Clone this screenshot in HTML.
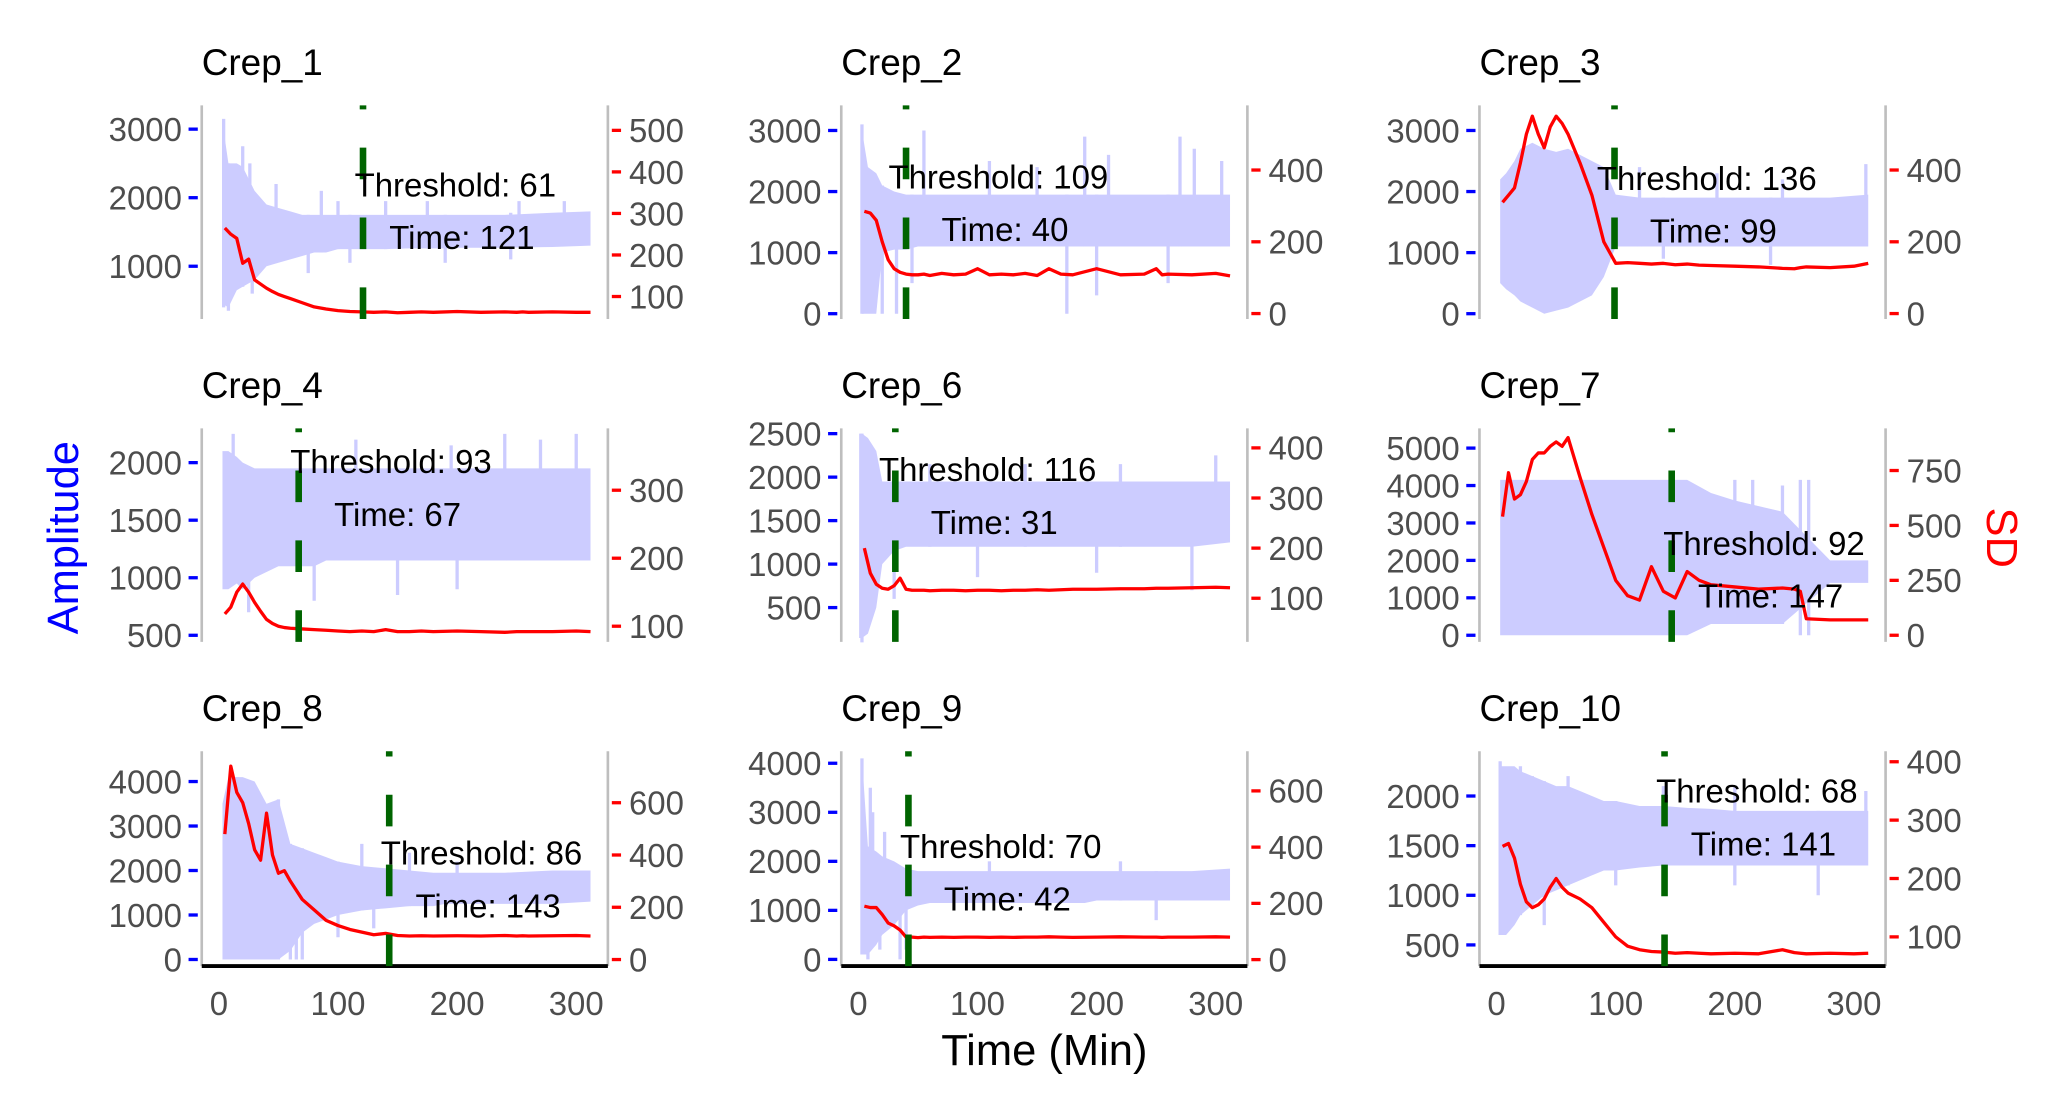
<!DOCTYPE html>
<html><head><meta charset="utf-8"><style>
html,body{margin:0;padding:0;background:#fff;}
svg{display:block;font-family:"Liberation Sans",Arial,sans-serif;}
</style></head>
<body>
<svg id="chart" xmlns="http://www.w3.org/2000/svg" width="2057" height="1115" viewBox="0 0 1560 846" preserveAspectRatio="none">
<rect x="0" y="0" width="1560" height="846" fill="#fff"/>
<text x="0" y="0" transform="translate(59,408) rotate(-90)" text-anchor="middle" font-size="33" fill="#0000ff">Amplitude</text>
<text x="0" y="0" transform="translate(1507,408) rotate(90)" text-anchor="middle" font-size="33" fill="#ff0000">SD</text>
<text x="792" y="808" text-anchor="middle" font-size="33" fill="#000">Time (Min)</text>
</svg>
<script>
// ---- data ----
const titles = ["Crep_1","Crep_2","Crep_3","Crep_4","Crep_6","Crep_7","Crep_8","Crep_9","Crep_10"];
const thresholds = [61,109,136,93,116,92,86,70,68];
const thrTimes = [121,40,99,67,31,147,143,42,141];
const xTicks = [0,100,200,300];
const ampTicks = [[1000,2000,3000],[0,1000,2000,3000],[0,1000,2000,3000],[500,1000,1500,2000],[500,1000,1500,2000,2500],[0,1000,2000,3000,4000,5000],[0,1000,2000,3000,4000],[0,1000,2000,3000,4000],[500,1000,1500,2000]];
const sdTicks = [[100,200,300,400,500],[0,200,400],[0,200,400],[100,200,300],[100,200,300,400],[0,250,500,750],[0,200,400,600],[0,200,400,600],[100,200,300,400]];
const ampDomain = [[231,3346],[-86,3410],[-86,3410],[443,2298],[106,2561],[-176,5528],[-148,4681],[-136,4245],[287,2451]];
const sdDomain = [[46,560],[-15,580],[-15,580],[77,391],[13,439],[-30,942],[-25,797],[-23,741],[50,418]];

const TS = [5,10,15,20,25,30,35,40,45,50,55,60,70,80,90,100,110,120,130,140,150,160,170,180,200,220,240,250,255,260,280,300,312];
const sd1 = [265,250,240,180,190,140,130,120,112,105,100,95,85,75,70,66,64,63,62,63,61,62,63,62,64,62,63,62,63,62,63,62,62];
const sd2 = [285,280,260,200,150,125,115,110,108,108,110,106,112,108,110,125,108,110,108,112,106,125,110,108,125,108,110,125,108,110,108,112,105];
const sd3 = [310,330,350,420,500,550,500,462,520,550,530,500,420,330,200,140,142,140,138,140,136,138,135,134,132,130,126,125,128,130,128,132,140];
const sd4 = [118,128,150,162,150,135,122,110,104,100,98,97,96,95,94,93,92,93,92,95,92,92,93,92,93,92,91,92,92,92,92,93,92];
const sd6 = [200,150,128,120,118,125,140,118,116,116,116,115,116,116,115,116,116,115,116,116,117,116,117,118,118,119,119,120,120,120,121,122,121];
const sd7 = [540,740,620,640,700,800,830,830,860,880,860,900,720,550,400,250,180,160,312,200,170,290,250,230,220,210,215,210,200,75,70,70,70];
const sd8 = [480,740,640,600,520,420,380,560,400,330,340,300,230,190,150,130,115,105,95,100,92,90,91,90,91,90,92,90,91,90,91,92,90];
const sd9 = [190,185,185,160,130,120,105,80,80,78,80,79,80,79,80,80,79,80,79,80,80,81,80,79,80,81,80,80,79,80,80,81,80];
const sd10 = [255,260,235,190,160,150,155,165,185,200,185,175,165,150,125,100,84,78,75,74,72,73,72,71,72,71,78,73,72,71,72,71,72];
const sdSeries = [sd1,sd2,sd3,sd4,sd6,sd7,sd8,sd9,sd10];

const TB = [3,8,15,20,30,40,50,60,70,80,90,100,120,140,160,180,190,200,240,280,312];
const hi1 = [3100,2500,2500,2450,2100,1900,1850,1800,1750,1750,1750,1750,1750,1750,1750,1750,1750,1750,1750,1780,1800];
const lo1 = [450,400,650,700,800,1000,1050,1100,1150,1200,1200,1250,1250,1250,1260,1260,1260,1270,1270,1280,1300];
const hi2 = [3000,2400,2300,2100,2000,1950,1950,1950,1950,1950,1950,1950,1950,1950,1950,1950,1950,1950,1950,1950,1950];
const lo2 = [0,0,0,1000,1050,1050,1100,1100,1100,1100,1100,1100,1100,1100,1100,1100,1100,1100,1100,1100,1100];
const hi3 = [2200,2300,2500,2700,2800,2700,2650,2700,2600,2500,2400,1950,1900,1900,1900,1900,1900,1900,1900,1900,1950];
const lo3 = [500,400,300,200,100,0,50,100,200,300,600,1100,1100,1100,1100,1100,1100,1100,1100,1100,1100];
const hi4 = [2100,2100,2050,2000,1950,1950,1950,1950,1950,1950,1950,1950,1950,1950,1950,1950,1950,1950,1950,1950,1950];
const lo4 = [900,900,950,900,1000,1050,1100,1100,1100,1100,1150,1150,1150,1150,1150,1150,1150,1150,1150,1150,1150];
const hi6 = [2500,2450,2300,1950,1950,1950,1950,1950,1950,1950,1950,1950,1950,1950,1950,1950,1950,1950,1950,1950,1950];
const lo6 = [150,200,500,1000,1150,1200,1200,1200,1200,1200,1200,1200,1200,1200,1200,1200,1200,1200,1200,1200,1250];
const hi7 = [4150,4150,4150,4150,4150,4150,4150,4150,4150,4150,4150,4150,4150,4150,4150,3800,3700,3600,3300,2000,2000];
const lo7 = [0,0,0,0,0,0,0,0,0,0,0,0,0,0,0,300,300,300,300,1400,1400];
const hi8 = [3500,4100,4100,4100,4000,3500,3600,2600,2500,2400,2300,2200,2100,2050,2000,1950,1950,1950,1950,2000,2000];
const lo8 = [0,0,0,0,0,0,0,200,600,800,900,1000,1100,1150,1200,1200,1250,1250,1250,1250,1300];
const hi9 = [4100,2300,2200,2100,2000,1850,1800,1800,1800,1800,1800,1800,1800,1800,1800,1800,1800,1800,1800,1800,1850];
const lo9 = [100,100,300,500,700,1000,1100,1150,1150,1150,1150,1150,1150,1150,1150,1150,1150,1200,1200,1200,1200];
const hi10 = [2300,2300,2300,2250,2200,2150,2100,2100,2050,2000,1950,1950,1900,1900,1880,1870,1860,1850,1850,1850,1850];
const lo10 = [600,600,700,800,900,1000,1050,1100,1150,1200,1250,1250,1280,1300,1300,1300,1300,1300,1300,1300,1300];
const hiSeries = [hi1,hi2,hi3,hi4,hi6,hi7,hi8,hi9,hi10];
const loSeries = [lo1,lo2,lo3,lo4,lo6,lo7,lo8,lo9,lo10];

const spikeUpT = [[4,20,26,48,86,100,140,175,252,290],[3,55,110,150,190,210,270,282,305],[120,185,240,310],[12,115,195,240,270,300],[2,60,140,220,300],[200,215,240,255,262],[15,50,120,160,200],[3,10,12,22,110,220],[3,20,30,60,140,200,310]];
const spikeUpV = [[3150,2750,2500,2200,2100,1950,1950,1950,1950,1950],[3100,3000,2500,2400,2900,2600,2900,2700,2500],[2400,2300,2200,2450],[2250,2200,2150,2250,2200,2250],[2500,2150,2150,2150,2250],[4150,4150,4000,4150,4150],[4100,3600,2600,2400,2200],[4100,3500,3000,2600,2000,2000],[2350,2300,2200,2200,2100,2100,2050]];
const spikeDnT = [[8,28,75,110,190,245],[20,32,45,175,200,260],[140,230],[25,80,150,200],[3,30,100,200,280],[255,262],[60,65,70,100,130],[8,18,35,40,250],[40,100,200,270]];
const spikeDnV = [[350,600,900,1050,1050,1100],[0,0,500,0,300,500],[900,800],[700,800,850,900],[100,600,850,900,700],[0,0],[0,0,0,500,700],[0,200,0,200,800],[700,1100,1100,1000]];

// ---- layout ----
const colLeft = [153,638,1122], colRight = [461,946,1430];
const rowTop = [80,325,570], rowBot = [242,487,733];
const labelDy = [60,54,55,25,31,87,77,72,30];
const NS = "http://www.w3.org/2000/svg";
const svg = document.getElementById('chart');
function el(tag, attrs, parent){const e=document.createElementNS(NS,tag);for(const k in attrs)e.setAttribute(k,attrs[k]);(parent||svg).appendChild(e);return e;}

titles.forEach((title,i)=>{
  const c=i%3, r=Math.floor(i/3);
  const L=colLeft[c], R=colRight[c], top=rowTop[r], bot=rowBot[r];
  const xs = t => L+13+t*(271/300);
  const ya = v => bot-(v-ampDomain[i][0])/(ampDomain[i][1]-ampDomain[i][0])*(bot-top);
  const ysd = v => bot-(v-sdDomain[i][0])/(sdDomain[i][1]-sdDomain[i][0])*(bot-top);
  const g = el('g',{});
  
  
  const tt = el('text',{x:L,y:top-23,'font-size':28,fill:'#000'},g); tt.textContent=title;
  
  
  // band
  let pts = TB.map((t,k)=>xs(t)+','+ya(hiSeries[i][k]));
  for(let k=TB.length-1;k>=0;k--) pts.push(xs(TB[k])+','+ya(loSeries[i][k]));
  const band = el('polygon',{points:pts.join(' '),fill:'#ccccff'},g);
  
  
  spikeUpT[i].forEach((t,k)=>{
    const k2 = TB.findIndex(b=>b>=t); const base = loSeries[i][Math.max(0,k2)];
    const s = el('line',{x1:xs(t),x2:xs(t),y1:ya(base),y2:ya(spikeUpV[i][k]),stroke:'#ccccff','stroke-width':2.5},g);
    
    
  });
  spikeDnT[i].forEach((t,k)=>{
    const k2 = TB.findIndex(b=>b>=t); const base = hiSeries[i][Math.max(0,k2)];
    const s = el('line',{x1:xs(t),x2:xs(t),y1:ya(base),y2:ya(spikeDnV[i][k]),stroke:'#ccccff','stroke-width':2.5},g);
    
    
  });
  // axes
  const al = el('line',{x1:L,x2:L,y1:top,y2:bot,stroke:'#bebebe','stroke-width':2},g);
  
  
  const ar = el('line',{x1:R,x2:R,y1:top,y2:bot,stroke:'#bebebe','stroke-width':2},g);
  
  
  ampTicks[i].forEach(v=>{
    const y=ya(v);
    const tk=el('line',{x1:L-10,x2:L-3,y1:y,y2:y,stroke:'#0000ff','stroke-width':2.5},g);
    
    
    const lb=el('text',{x:L-15,y:y+9,'text-anchor':'end','font-size':25,fill:'#4d4d4d'},g); lb.textContent=v;
    
    
  });
  sdTicks[i].forEach(v=>{
    const y=ysd(v);
    const tk=el('line',{x1:R+3,x2:R+10,y1:y,y2:y,stroke:'#ff0000','stroke-width':2.5},g);
    
    
    const lb=el('text',{x:R+16,y:y+9,'font-size':25,fill:'#4d4d4d'},g); lb.textContent=v;
    
    
  });
  if(r===2){
    const xl=el('line',{x1:L,x2:R,y1:bot,y2:bot,stroke:'#000','stroke-width':3},g);
    
    
    xTicks.forEach(v=>{
      const lb=el('text',{x:xs(v),y:bot+37,'text-anchor':'middle','font-size':25,fill:'#4d4d4d'},g); lb.textContent=v;
      
      
    });
  }
  // sd line
  const sdp = el('polyline',{points:TS.map((t,k)=>xs(t)+','+ysd(sdSeries[i][k])).join(' '),fill:'none',stroke:'#ff0000','stroke-width':2.5,'stroke-linejoin':'round'},g);
  
  
  // threshold line
  const tx = xs(thrTimes[i]);
  const th = el('line',{x1:tx,x2:tx,y1:bot,y2:top,stroke:'#006400','stroke-width':5,'stroke-dasharray':'24 29'},g);
  
  
  let cx = tx+70;
  const t1 = el('text',{x:cx,y:top+labelDy[i]+9,'text-anchor':'middle','font-size':25,fill:'#000'},g);
  t1.textContent='Threshold: '+thresholds[i];
  
  
  const t2 = el('text',{x:cx+5,y:top+labelDy[i]+49,'text-anchor':'middle','font-size':25,fill:'#000'},g);
  t2.textContent='Time: '+thrTimes[i];
  
  
  // keep labels inside panel right edge
  const w1=t1.getComputedTextLength?t1.getComputedTextLength():0;
  if(cx+w1/2>R-8){ t1.setAttribute('x', R-8-w1/2); t2.setAttribute('x', R-8-w1/2-11); }
});
</script>
</body></html>
